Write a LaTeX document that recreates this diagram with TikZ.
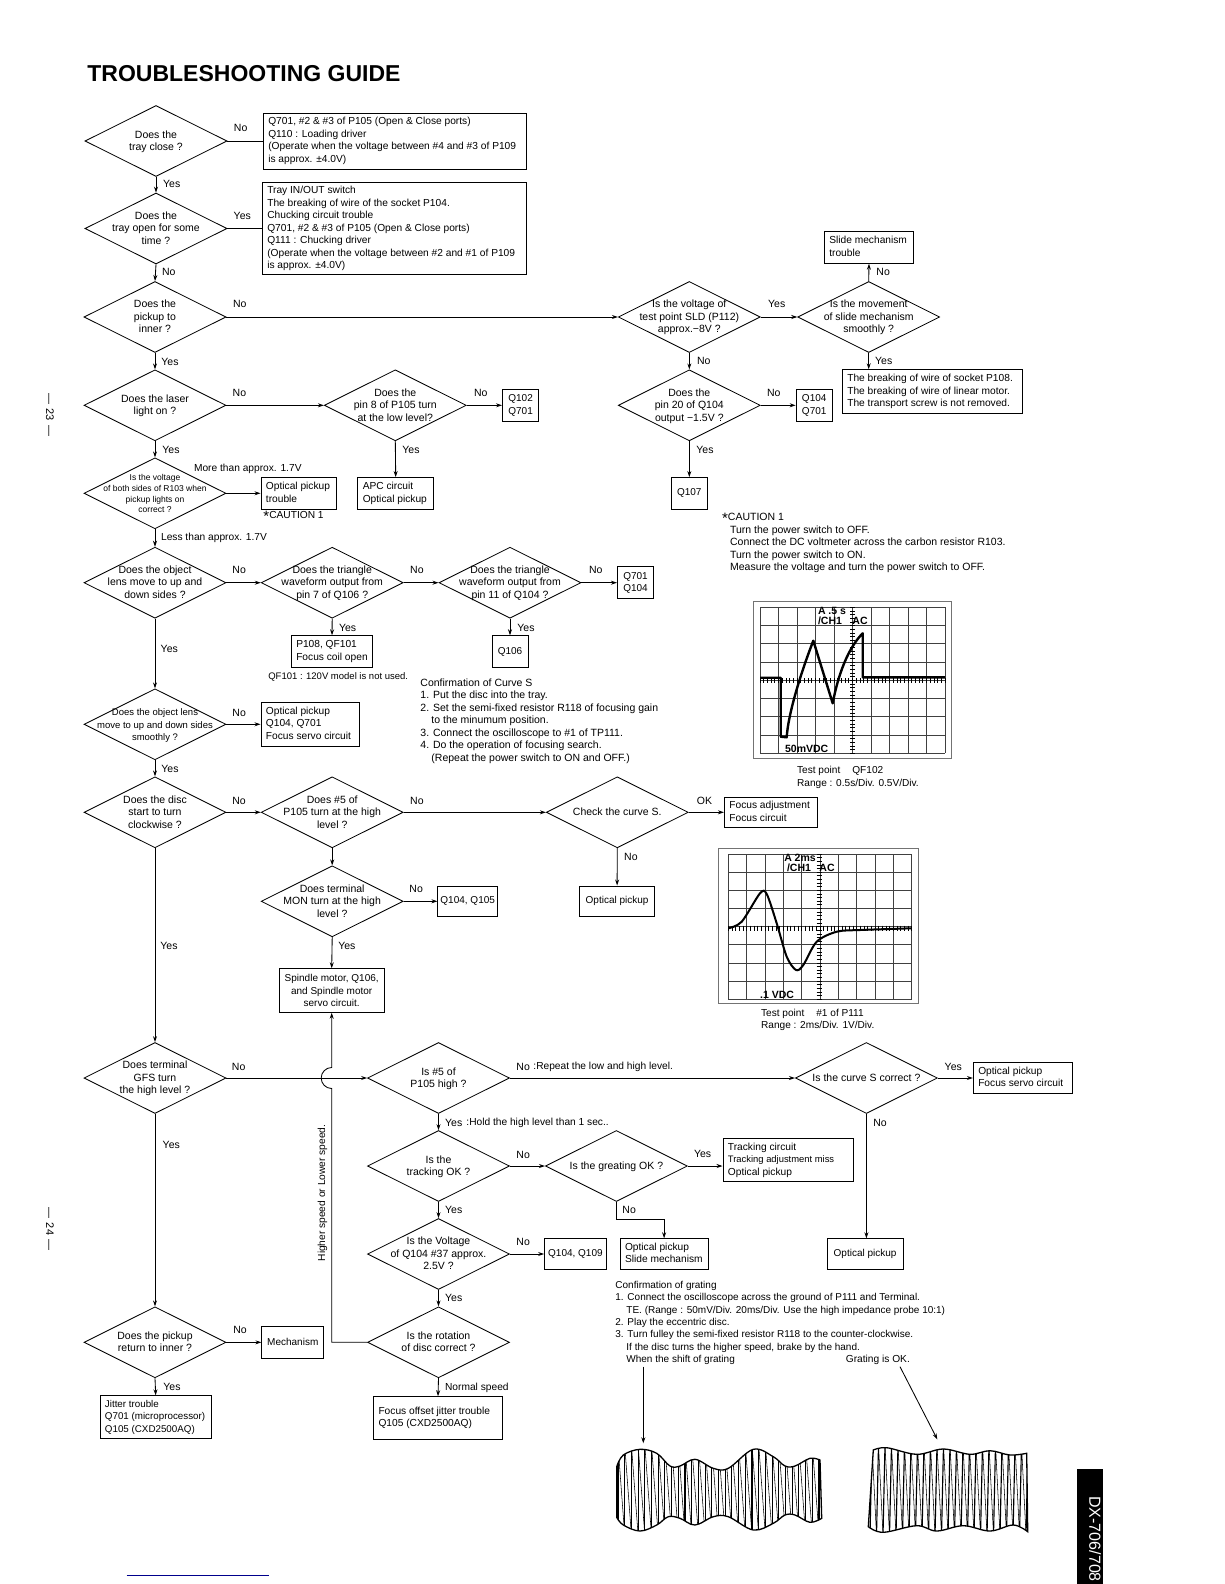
\documentclass[tikz,border=0pt]{standalone}
\usepackage{fontspec}
\setmainfont{Liberation Sans}
\usetikzlibrary{arrows.meta,positioning,calc,shapes.geometric}
\newcommand{\asktext}[1]{\makebox[0pt]{\smash{\raisebox{-3.5pt}{\begin{tabular}[c]{@{}c@{}}#1\end{tabular}}}}}
\newcommand{\bxtext}[2]{\makebox[#1][l]{\begin{tabular}{@{}l@{}}#2\end{tabular}}}
\newcommand{\cautmark}{\raisebox{-3pt}{\fontsize{15}{15}\selectfont *}}

\begin{document}
\begin{tikzpicture}[>={Stealth[length=6pt,width=4pt]}, x=1pt, y=-1pt, line width=0.85pt,
  ask/.style={diamond,draw,shape aspect=2,inner sep=0pt,minimum width=142pt,minimum height=71pt,font=\fontsize{10.5}{12.5}\selectfont},
  bx/.style={rectangle,draw,inner xsep=5pt,inner ysep=0pt,font=\fontsize{10.2}{12.5}\selectfont},
  bc/.style={rectangle,draw,align=center,inner sep=0pt,font=\fontsize{10}{12.5}\selectfont},
  lab/.style={anchor=west,inner sep=0pt,font=\fontsize{10.5}{12}\selectfont},
  small/.style={lab,font=\fontsize{10.2}{11}\selectfont},
  note/.style={anchor=north west,align=left,inner sep=0pt,font=\fontsize{10.5}{12.45}\selectfont},
  grid/.style={line width=0.9pt,black!75},
  frame/.style={line width=0.7pt,black!55},
  trace/.style={line width=2.4pt,line join=round},
  scr/.style={inner sep=0pt,font=\bfseries\fontsize{10.5}{11}\selectfont}]
  \useasboundingbox (0,0) rectangle (1224,1584);
  \node[anchor=west,inner sep=0pt,font=\bfseries\fontsize{23}{25}\selectfont] (title) at (87,74) {TROUBLESHOOTING GUIDE};
  \node[rotate=-90,inner sep=0pt,font=\fontsize{11}{12}\selectfont] (pg23) at (50,415) {—\hspace{4pt}23\hspace{4pt}—};
  \node[rotate=-90,inner sep=0pt,font=\fontsize{11}{12}\selectfont] (pg24) at (50,1229) {—\hspace{4pt}24\hspace{4pt}—};
  %--- left column ---
  \node[ask] (q1) at (156,141) {\asktext{Does the\\tray close ?}};
  \node[ask] (q2) at (156,228.5) {\asktext{Does the\\tray open for some\\time ?}};
  \node[ask] (q3) at (155,317) {\asktext{Does the\\pickup to\\inner ?}};
  \node[ask] (q4) at (155,405.3) {\asktext{Does the laser\\light on ?}};
  \node[ask,font=\fontsize{8.5}{10.7}\selectfont] (q6) at (155,493.3) {\asktext{Is the voltage\\of both sides of R103 when\\pickup lights on\\correct ?}};
  \node[ask] (q7) at (155,582.7) {\asktext{Does the object\\lens move to up and\\down sides ?}};
  \node[ask,font=\fontsize{9.5}{12.5}\selectfont] (q10) at (155,724.3) {\asktext{Does the object lens\\move to up and down sides\\smoothly ?}};
  \node[ask] (q11) at (155,812.3) {\asktext{Does the disc\\start to turn\\clockwise ?}};
  \node[ask] (q15) at (155,1078) {\asktext{Does terminal\\GFS turn\\the high level ?}};
  \node[ask] (q20) at (155,1342.3) {\asktext{Does the pickup\\return to inner ?}};
  \node[bx,minimum height=56pt] (b1) at (394.8,141) {\bxtext{253pt}{Q701, \#2 \& \#3 of P105 (Open \& Close ports)\\Q110 : Loading driver\\(Operate when the voltage between \#4 and \#3 of P109\\is approx. ±4.0V)}};
  \node[bx,minimum height=92.6pt] (b2) at (394.3,228.5) {\bxtext{254pt}{Tray IN/OUT switch\\The breaking of wire of the socket P104.\\Chucking circuit trouble\\Q701, \#2 \& \#3 of P105 (Open \& Close ports)\\Q111 : Chucking driver\\(Operate when the voltage between \#2 and \#1 of P109\\is approx. ±4.0V)}};
  \node[bx,minimum height=31.6pt] (bopt) at (298.8,493.3) {\bxtext{65.7pt}{Optical pickup\\trouble}};
  \node[bx,minimum height=43.4pt] (bfs) at (310.3,724.3) {\bxtext{88.7pt}{Optical pickup\\Q104, Q701\\Focus servo circuit}};
  \node[bx,minimum height=42.6pt,font=\fontsize{9.8}{12.5}\selectfont] (bjit) at (155.7,1417) {\bxtext{101.5pt}{Jitter trouble\\Q701 (microprocessor)\\Q105 (CXD2500AQ)}};
  \node[bc,minimum width=62pt,minimum height=31.4pt] (bmech) at (292.8,1342.3) {Mechanism};
  \draw (q1.east) -- (b1.west);
  \draw (q2.east) -- (b2.west);
  \draw[->] (q1.south) -- (q2.north);
  \draw[->] (q2.south) -- (q3.north);
  \draw[->] (q3.south) -- (q4.north);
  \draw[->] (q4.south) -- (q6.north);
  \draw[->] (q6.south) -- (q7.north);
  \draw[->] (q7.south) -- (q10.north);
  \draw[->] (q10.south) -- (q11.north);
  \draw[->] (q11.south) -- (q15.north);
  \draw[->] (q15.south) -- (q20.north);
  \draw[->] (q20.south) -- (bjit.north);
  \draw[->] (q6.east) -- (bopt.west);
  \draw[->] (q10.east) -- (bfs.west);
  \draw[->] (q20.east) -- (bmech.west);
  \node[lab] (l1) at (233.5,128.3) {No};
  \node[lab] (l2) at (162.7,184.3) {Yes};
  \node[lab] (l3) at (233.3,216) {Yes};
  \node[lab] (l4) at (161.7,272.3) {No};
  \node[lab] (l5) at (232.7,304.3) {No};
  \node[lab] (l6) at (161,361.7) {Yes};
  \node[lab] (l7) at (162,449.7) {Yes};
  \node[lab] (l8) at (232.3,393.3) {No};
  \node[small] (l9) at (193.6,469) {More than approx. 1.7V};
  \node[small] (l10) at (160.7,537.7) {Less than approx. 1.7V};
  \node[lab] (l11) at (232,570.3) {No};
  \node[lab] (l12) at (160.3,649.3) {Yes};
  \node[lab] (l13) at (232,712.7) {No};
  \node[lab] (l14) at (161,769.3) {Yes};
  \node[lab] (l15) at (231.9,800.7) {No};
  \node[lab] (l16) at (160,946) {Yes};
  \node[lab] (l17) at (231.5,1066.7) {No};
  \node[lab] (l18) at (162.3,1145.3) {Yes};
  \node[lab] (l19) at (232.9,1330) {No};
  \node[lab] (l20) at (163,1386.7) {Yes};
  \node[small] (caut1) at (263,516.7) {\cautmark CAUTION 1};
  %--- upper middle ---
  \node[ask] (q5) at (395.3,405.3) {\asktext{Does the\\pin 8 of P105 turn\\at the low level?}};
  \node[ask] (q8) at (332.2,582.7) {\asktext{Does the triangle\\waveform output from\\pin 7 of Q106 ?}};
  \node[ask] (q9) at (510,582.7) {\asktext{Does the triangle\\waveform output from\\pin 11 of Q104 ?}};
  \node[ask] (q12) at (332.2,812.3) {\asktext{Does \#5 of\\P105 turn at the high\\level ?}};
  \node[ask] (q13) at (617.3,812.3) {\asktext{Check the curve S.}};
  \node[ask] (q14) at (332.2,901.3) {\asktext{Does terminal\\MON turn at the high\\level ?}};
  \node[bc,minimum width=36.3pt,minimum height=31.4pt] (bq102) at (520.6,405.3) {Q102\\Q701};
  \node[bx,minimum height=31.6pt] (bapc) at (395.7,493.3) {\bxtext{65.8pt}{APC circuit\\Optical pickup}};
  \node[bc,minimum width=36.3pt,minimum height=32pt] (bq701) at (635.5,582.7) {Q701\\Q104};
  \node[bx,minimum height=31.6pt] (bp108) at (332,651.5) {\bxtext{71.5pt}{P108, QF101\\Focus coil open}};
  \node[bc,minimum width=36pt,minimum height=31.6pt] (bq106) at (510,651.5) {Q106};
  \node[bx,minimum height=30.4pt] (bfa) at (770.7,812.3) {\bxtext{82.7pt}{Focus adjustment\\Focus circuit}};
  \node[bc,minimum width=59.7pt,minimum height=30.7pt] (bq105) at (467.7,901.3) {Q104, Q105};
  \node[bc,minimum width=75.4pt,minimum height=30.7pt] (bopt2) at (617.1,901.3) {Optical pickup};
  \node[bc,minimum width=105.2pt,minimum height=43.6pt] (bspin) at (331.7,990.5) {Spindle motor, Q106,\\and Spindle motor\\servo circuit.};
  \draw[->] (q4.east) -- (q5.west);
  \draw[->] (q5.east) -- (bq102.west);
  \draw[->] (q5.south) -- (bapc.north);
  \draw[->] (q7.east) -- (q8.west);
  \draw[->] (q8.east) -- (q9.west);
  \draw[->] (q9.east) -- (bq701.west);
  \draw[->] (q8.south) -- (bp108.north);
  \draw[->] (q9.south) -- (bq106.north);
  \draw[->] (q11.east) -- (q12.west);
  \draw[->] (q12.east) -- (q13.west);
  \draw[->] (q13.east) -- (bfa.west);
  \draw[->] (q13.south) -- (bopt2.north);
  \draw[->] (q12.south) -- (q14.north);
  \draw[->] (q14.east) -- (bq105.west);
  \draw[->] (q14.south) -- (bspin.north);
  \node[lab] (l21) at (473.7,393.3) {No};
  \node[lab] (l22) at (402,449.7) {Yes};
  \node[lab] (l23) at (409.8,570.3) {No};
  \node[lab] (l24) at (588.6,570.3) {No};
  \node[lab] (l25) at (338.6,627.7) {Yes};
  \node[lab] (l26) at (517,627.7) {Yes};
  \node[lab,font=\fontsize{9.5}{11}\selectfont] (n101) at (267.9,676.7) {QF101 : 120V model is not used.};
  \node[lab] (l27) at (409.8,800.7) {No};
  \node[lab] (l28) at (696.5,800.7) {OK};
  \node[lab] (l29) at (623.8,857.3) {No};
  \node[lab] (l30) at (409,889.3) {No};
  \node[lab] (l31) at (337.9,946) {Yes};
  \node[note] (conf) at (420,678.5) {Confirmation of Curve S\\1. Put the disc into the tray.\\2. Set the semi-fixed resistor R118 of focusing gain\\\hspace*{11pt}to the minumum position.\\3. Connect the oscilloscope to \#1 of TP111.\\4. Do the operation of focusing search.\\\hspace*{11pt}(Repeat the power switch to ON and OFF.)};
  %--- upper right ---
  \node[ask] (q23) at (689.3,317) {\asktext{Is the voltage of\\test point SLD (P112)\\approx.−8V ?}};
  \node[ask] (q24) at (868.7,317) {\asktext{Is the movement\\of slide mechanism\\smoothly ?}};
  \node[ask] (q25) at (689.3,405.3) {\asktext{Does the\\pin 20 of Q104\\output −1.5V ?}};
  \node[bx,minimum height=31.6pt] (bslm) at (869,247.5) {\bxtext{79.4pt}{Slide mechanism\\trouble}};
  \node[bx,minimum height=44pt] (bbrk) at (932.5,391.7) {\bxtext{170.4pt}{The breaking of wire of socket P108.\\The breaking of wire of linear motor.\\The transport screw is not removed.}};
  \node[bc,minimum width=36.3pt,minimum height=32pt] (bq104) at (814.2,405.3) {Q104\\Q701};
  \node[bc,minimum width=36.3pt,minimum height=31.6pt] (bq107) at (689.3,493.3) {Q107};
  \draw[->] (q3.east) -- (q23.west);
  \draw[->] (q23.east) -- (q24.west);
  \draw[->] (q24.north) -- (bslm.south);
  \draw[->] (q24.south) -- (q24.south |- bbrk.north);
  \draw[->] (q23.south) -- (q25.north);
  \draw[->] (q25.east) -- (bq104.west);
  \draw[->] (q25.south) -- (bq107.north);
  \node[lab] (l32) at (767.7,304.3) {Yes};
  \node[lab] (l33) at (876,272.3) {No};
  \node[lab] (l34) at (696.7,361.3) {No};
  \node[lab] (l35) at (874.7,361.3) {Yes};
  \node[lab] (l36) at (766.7,393.3) {No};
  \node[lab] (l37) at (696,449.7) {Yes};
  \node[note] (caut2) at (721.7,513) {\cautmark CAUTION 1\\\hspace*{8pt}Turn the power switch to OFF.\\\hspace*{8pt}Connect the DC voltmeter across the carbon resistor R103.\\\hspace*{8pt}Turn the power switch to ON.\\\hspace*{8pt}Measure the voltage and turn the power switch to OFF.};
  %--- scope QF102 ---
  \draw[frame] (753.3,601.7) rectangle (951.7,758.3);
  \foreach \i in {0,...,10} \draw[grid] (760+\i*18.5,607.3) -- (760+\i*18.5,753.3);
  \foreach \i in {0,...,8} \draw[grid] (760,607.3+\i*18.25) -- (945,607.3+\i*18.25);
  \foreach \i in {0,...,50} \draw[line width=0.7pt] (760+\i*3.7,678) -- (760+\i*3.7,682.6);
  \foreach \i in {0,...,40} \draw[line width=0.7pt] (850.2,607.3+\i*3.65) -- (854.8,607.3+\i*3.65);
  \draw[trace] (760,677.7) -- (780.7,677.7) -- (780.7,736.7) -- (786.7,737.3) .. controls (788,715) and (800,675) .. (813.3,640.7) -- (832.7,703.3) .. controls (838,675) and (848,648) .. (862.7,633.3) -- (862.7,677.3) -- (945,677.3);
  \node[scr] (s1a) at (832,611) {A .5 s};
  \node[scr] (s1b) at (830,621) {/CH1};
  \node[scr] (s1c) at (860,621) {AC};
  \node[scr] (s1d) at (806.7,749) {50mVDC};
  \node[note,font=\fontsize{10.1}{12.45}\selectfont] (tp1) at (796.7,766) {Test point\hspace{12pt}QF102\\Range : 0.5s/Div. 0.5V/Div.};
  %--- scope P111 ---
  \draw[frame] (718.3,848.3) rectangle (918.3,1003.3);
  \foreach \i in {0,...,10} \draw[grid] (728.3+\i*18.34,854) -- (728.3+\i*18.34,999.3);
  \foreach \i in {0,...,8} \draw[grid] (728.3,854+\i*18.16) -- (911.7,854+\i*18.16);
  \foreach \i in {0,...,50} \draw[line width=0.7pt] (728.3+\i*3.67,925.5) -- (728.3+\i*3.67,930.5);
  \foreach \i in {0,...,40} \draw[line width=0.7pt] (816.7,854+\i*3.63) -- (821.7,854+\i*3.63);
  \draw[line width=2pt] plot[smooth,tension=0.5] coordinates {(728.3,928.3) (741.7,921.7) (760,893.3) (766.7,894) (776.7,923.3) (786.7,956.7) (796,970) (803.3,965) (816.7,941.7) (836.7,931.7) (860,930) (911.7,928.3)};
  \node[scr] (s2a) at (800,858) {A  2ms};
  \node[scr] (s2b) at (799,868) {/CH1};
  \node[scr] (s2c) at (827,868) {AC};
  \node[scr] (s2d) at (777,995) {.1 VDC};
  \node[note,font=\fontsize{10.1}{12.45}\selectfont] (tp2) at (760.7,1008.3) {Test point\hspace{12pt}\#1 of P111\\Range : 2ms/Div. 1V/Div.};
  %--- lower middle ---
  \node[ask] (q16) at (438.5,1078) {\asktext{Is \#5 of\\P105 high ?}};
  \node[ask] (q17) at (438.5,1166) {\asktext{Is the\\tracking OK ?}};
  \node[ask] (q18) at (438.5,1254) {\asktext{Is the Voltage\\of Q104 \#37 approx.\\2.5V ?}};
  \node[ask] (q19) at (438.5,1342.3) {\asktext{Is the rotation\\of disc correct ?}};
  \node[ask] (q22) at (616.4,1166) {\asktext{Is the greating OK ?}};
  \node[ask] (q21) at (866.4,1078) {\asktext{Is the curve S correct ?}};
  \node[bx,minimum height=30.4pt] (bfsc) at (1022.9,1078) {\bxtext{89.3pt}{Optical pickup\\Focus servo circuit}};
  \node[bx,minimum height=43pt] (btrk) at (788.3,1160.2) {\bxtext{120.7pt}{Tracking circuit\\{\fontsize{9.4}{12.5}\selectfont Tracking adjustment miss}\\Optical pickup}};
  \node[bc,minimum width=61.7pt,minimum height=30.6pt] (bq109) at (575.4,1254) {Q104, Q109};
  \node[bx,minimum height=30.6pt] (bsld) at (664.1,1254) {\bxtext{78.2pt}{Optical pickup\\Slide mechanism}};
  \node[bc,minimum width=76.2pt,minimum height=30.6pt] (bopt3) at (865.1,1254) {Optical pickup};
  \node[bx,minimum height=42.3pt] (bfoj) at (438,1417.8) {\bxtext{119pt}{Focus offset jitter trouble\\Q105 (CXD2500AQ)}};
  \coordinate (hl) at (331.7,1088.5);
  \coordinate (e1) at (616.4,1219);
  \draw[->] (q15.east) -- (q16.west);
  \draw[->] (q19.west) -| (hl) arc[start angle=270,end angle=90,radius=10.5pt] -- (bspin.south);
  \draw[->] (q16.south) -- (q17.north);
  \draw[->] (q17.south) -- (q18.north);
  \draw[->] (q18.south) -- (q19.north);
  \draw[->] (q19.south) -- (bfoj.north);
  \draw[->] (q16.east) -- (q21.west);
  \draw[->] (q21.east) -- (bfsc.west);
  \draw[->] (q21.south) -- (q21.south |- bopt3.north);
  \draw[->] (q17.east) -- (q22.west);
  \draw[->] (q22.east) -- (q22.east -| btrk.west);
  \draw[->] (q22.south) -- (e1) -| (bsld.north);
  \draw[->] (q18.east) -- (bq109.west);
  \node[small,rotate=90,anchor=center] (hs) at (322.4,1193) {Higher speed or Lower speed.};
  \node[lab] (l38) at (516,1066.7) {No};
  \node[small] (l39) at (533,1067) {:Repeat the low and high level.};
  \node[lab] (l40) at (444.7,1122.7) {Yes};
  \node[small] (l41) at (466,1122.7) {:Hold the high level than 1 sec..};
  \node[lab] (l42) at (516,1155) {No};
  \node[lab] (l43) at (444.7,1210.3) {Yes};
  \node[lab] (l44) at (516,1242.3) {No};
  \node[lab] (l45) at (444.7,1298.3) {Yes};
  \node[small] (l46) at (444.7,1387.7) {Normal speed};
  \node[lab] (l47) at (693.6,1154.3) {Yes};
  \node[lab] (l48) at (622,1210) {No};
  \node[lab] (l49) at (944.3,1066.7) {Yes};
  \node[lab] (l50) at (872.9,1122.7) {No};
  \node[note,font=\fontsize{10}{12.45}\selectfont] (conf2) at (615,1280.5) {Confirmation of grating\\1. Connect the oscilloscope across the ground of P111 and Terminal.\\\hspace*{11pt}TE. (Range : 50mV/Div. 20ms/Div. Use the high impedance probe 10:1)\\2. Play the eccentric disc.\\3. Turn fulley the semi-fixed resistor R118 to the counter-clockwise.\\\hspace*{11pt}If the disc turns the higher speed, brake by the hand.\\\hspace*{11pt}When the shift of grating};
  \node[small] (gok) at (845.4,1360) {Grating is OK.};
  %--- waveforms ---
  \coordinate (w1s) at (643.3,1366.7);
  \coordinate (w1e) at (643.3,1443.3);
  \coordinate (w2s) at (900,1366.7);
  \coordinate (w2e) at (937.3,1439.3);
  \draw[->] (w1s) -- (w1e);
  \draw[->] (w2s) -- (w2e);
  \begin{scope}[line width=1.3pt]
    \path[draw,clip] plot[smooth,tension=0.6] coordinates {(616.7,1466.7) (623.3,1455) (640,1449.3) (656.7,1453.3) (670,1466) (680,1466) (695,1459.3) (713.3,1468.3) (728.3,1468.3) (753.3,1449.3) (773.3,1456.7) (785,1466) (795,1466) (810,1458.3) (820,1460)} -- plot[smooth,tension=0.6] coordinates {(821.7,1518.3) (810,1522.3) (795,1515) (785,1515) (773.3,1523.3) (753.3,1530) (728.3,1516.7) (713.3,1516.7) (695,1525) (680,1518.3) (668.3,1516.7) (656.7,1525) (640,1531) (623.3,1525) (616.7,1517.3)} -- cycle;
    \foreach \x in {618,624.7,...,822} {
      \draw[line width=1.15pt] (\x,1445) -- (\x,1535);
      \draw[line width=0.55pt] (\x,1445) -- (\x+6.7,1535);
    }
  \end{scope}
  \begin{scope}[line width=1.3pt]
    \path[draw,clip] plot[smooth,tension=0.6] coordinates {(873.3,1450) (886.7,1447.7) (916.7,1454.3) (943.3,1449) (970,1454.3) (990,1450.7) (1010,1455) (1026.7,1453.3)} -- plot[smooth,tension=0.6] coordinates {(1027.7,1531.7) (1013.3,1525) (990,1531) (963.3,1525.7) (936.7,1531) (916.7,1525.7) (883.3,1532.3) (868.3,1526.7)} -- cycle;
    \foreach \x in {870,876.5,...,1028} {
      \draw[line width=1.15pt] (\x+2,1445) -- (\x,1535);
      \draw[line width=0.55pt] (\x+2,1445) -- (\x+6.5,1535);
    }
  \end{scope}
  %--- page edge ---
  \draw[line width=1pt,blue!55!black] (126.7,1575) -- (269,1575);
  \fill[black] (1077.3,1469) rectangle (1102.7,1584);
  \node[rotate=-90,anchor=west,inner sep=0pt,text=white,font=\fontsize{16}{18}\selectfont] (tab) at (1095,1496) {DX-706/708};
\end{tikzpicture}
\end{document}
